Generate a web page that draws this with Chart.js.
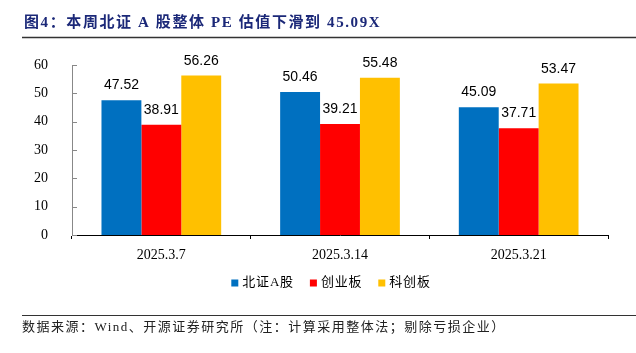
<!DOCTYPE html>
<html><head><meta charset="utf-8">
<script src="https://cdn.jsdelivr.net/npm/chart.js@4/dist/chart.umd.min.js"></script>
<style>html,body{margin:0;padding:0;background:#fff;}#wrap{width:636px;height:353px;position:relative;}</style>
</head><body><div id="wrap"><canvas id="c" width="636" height="353"></canvas></div>
<script>
const categories = ['2025.3.7', '2025.3.14', '2025.3.21'];
const seriesNames = ['北证A股', '创业板', '科创板'];
const bzA = [47.52, 50.46, 45.09];
const cyb = [38.91, 39.21, 37.71];
const kcb = [56.26, 55.48, 53.47];
const yTicks = [0, 10, 20, 30, 40, 50, 60];
const titleText = '图4：本周北证 A 股整体 PE 估值下滑到 45.09X';
const sourceText = '数据来源：Wind、开源证券研究所（注：计算采用整体法；剔除亏损企业）';
const colors = ['#0070C0', '#FF0000', '#FFC000'];

const SERIF = '"Liberation Serif", "Noto Sans CJK SC", serif';

const decor = {
  id: 'decor',
  afterDraw(chart) {
    const ctx = chart.ctx;
    ctx.save();
    // title
    ctx.fillStyle = '#1B2878';
    ctx.font = 'bold 15px ' + SERIF;
    ctx.textBaseline = 'middle';
    ctx.textAlign = 'left';
    ctx.letterSpacing = '1.6px';
    ctx.fillText(titleText, 24, 23);
    ctx.letterSpacing = '0px';
    // lines
    ctx.strokeStyle = '#333';
    ctx.lineWidth = 1.5;
    ctx.beginPath(); ctx.moveTo(22, 37.5); ctx.lineTo(636, 37.5); ctx.stroke();
    ctx.lineWidth = 1;
    ctx.beginPath(); ctx.moveTo(22, 315.5); ctx.lineTo(636, 315.5); ctx.stroke();
    // source
    ctx.fillStyle = '#222';
    ctx.font = '13px ' + SERIF;
    ctx.letterSpacing = '1.5px';
    ctx.fillText(sourceText, 22, 328);
    ctx.letterSpacing = '0px';
    // y inward ticks
    const ys = chart.scales.y;
    const x0 = chart.chartArea.left;
    ctx.strokeStyle = '#888';
    ctx.lineWidth = 1;
    yTicks.forEach(v => {
      const y = Math.round(ys.getPixelForValue(v)) + 0.5;
      ctx.beginPath(); ctx.moveTo(x0, y); ctx.lineTo(x0 + 5, y); ctx.stroke();
    });
    // legend
    ctx.font = '13px ' + SERIF;
    ctx.letterSpacing = '0.8px';
    const box = 7, gapBT = 4, gapItem = 16;
    const widths = chart.data.datasets.map(d => ctx.measureText(d.label).width);
    const total = widths.reduce((a, w) => a + box + gapBT + w, 0) + gapItem * (widths.length - 1);
    let x = 331 - total / 2;
    const ly = 283;
    chart.data.datasets.forEach((d, i) => {
      ctx.fillStyle = d.backgroundColor;
      ctx.fillRect(x, ly - box / 2, box, box);
      x += box + gapBT;
      ctx.fillStyle = '#000';
      ctx.fillText(d.label, x, ly);
      x += widths[i] + gapItem;
    });
    ctx.restore();
  },
  afterDatasetsDraw(chart) {
    const ctx = chart.ctx;
    ctx.save();
    ctx.font = '14px "Liberation Sans", Arial, sans-serif';
    ctx.fillStyle = '#000';
    ctx.textAlign = 'center';
    ctx.textBaseline = 'alphabetic';
    chart.data.datasets.forEach((d, i) => {
      chart.getDatasetMeta(i).data.forEach((bar, j) => {
        ctx.fillText(d.data[j].toFixed(2), bar.x, bar.y - 11);
      });
    });
    ctx.restore();
  }
};

new Chart(document.getElementById('c'), {
  type: 'bar',
  data: {
    labels: categories,
    datasets: [
      { label: seriesNames[0], data: bzA, backgroundColor: colors[0] },
      { label: seriesNames[1], data: cyb, backgroundColor: colors[1] },
      { label: seriesNames[2], data: kcb, backgroundColor: colors[2] }
    ]
  },
  options: {
    responsive: false,
    animation: false,
    devicePixelRatio: 1,
    layout: { padding: { left: 0, right: 28, top: 65, bottom: 88 } },
    datasets: { bar: { categoryPercentage: 0.67, barPercentage: 1.0 } },
    plugins: { legend: { display: false }, tooltip: { enabled: false }, title: { display: false } },
    scales: {
      x: {
        grid: { display: true, offset: true, drawOnChartArea: false, drawTicks: true, tickLength: 4, color: '#000' },
        border: { display: true, color: '#000', width: 1 },
        ticks: { font: { family: SERIF, size: 14 }, color: '#000', padding: 8, maxRotation: 0 },
        afterFit(s) { s.height = 30; }
      },
      y: {
        min: 0, max: 60,
        grid: { display: false, drawTicks: false },
        border: { display: true, color: '#888', width: 1 },
        ticks: { stepSize: 10, font: { family: SERIF, size: 14 }, color: '#000', padding: 24 },
        afterFit(s) { s.width = 72; }
      }
    }
  },
  plugins: [decor]
});
</script>
</body></html>
